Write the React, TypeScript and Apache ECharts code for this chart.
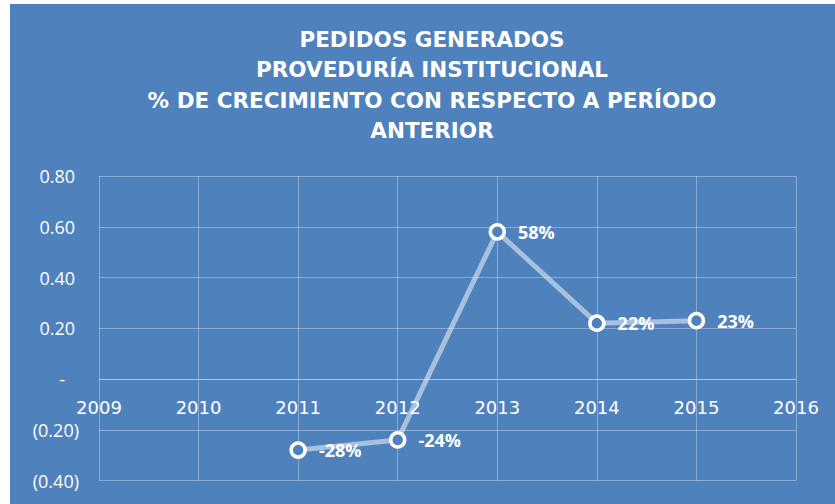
import React, { useEffect, useRef } from "react";
import * as echarts from "echarts";

const titleLines = [
  "PEDIDOS GENERADOS",
  "PROVEDURÍA INSTITUCIONAL",
  "% DE CRECIMIENTO CON RESPECTO A PERÍODO",
  "ANTERIOR",
];
const years = [2011, 2012, 2013, 2014, 2015];
const growth = [-0.28, -0.24, 0.58, 0.22, 0.23];
const xMin = 2009;
const xMax = 2016;
const yMin = -0.4;
const yMax = 0.8;
const yStep = 0.2;

const BG = "#4F81BD";
const GRID = "rgba(255,255,255,0.33)";

const GRID_TOP = 176;
const GRID_BOTTOM = 23.5;
const CH = 504;

export default function App() {
  const ref = useRef<HTMLDivElement>(null);
  useEffect(() => {
    if (!ref.current) return;
    const chart = echarts.init(ref.current, undefined, { renderer: "svg" });
    const gridH = CH - GRID_TOP - GRID_BOTTOM;
    const zeroFromBottom = (gridH * (0 - yMin)) / (yMax - yMin);
    chart.setOption({
      animation: false,
      backgroundColor: "#ffffff",
      graphic: [
        {
          type: "rect",
          z: -10,
          silent: true,
          shape: { x: 10, y: 4, width: 825, height: 500 },
          style: { fill: BG },
        },
      ],
      title: {
        text: titleLines.join("\n"),
        left: 427,
        top: 19,
        textAlign: "center",
        textStyle: {
          color: "#ffffff",
          fontFamily: "DejaVu Sans",
          fontWeight: "bold",
          fontSize: 21.5,
          lineHeight: 30.5,
        },
      },
      grid: {
        left: 99,
        right: 39,
        top: GRID_TOP,
        bottom: GRID_BOTTOM,
        containLabel: false,
        outerBoundsMode: "none",
      },
      xAxis: {
        type: "value",
        min: xMin,
        max: xMax,
        interval: 1,
        offset: -zeroFromBottom,
        axisLine: { show: true, onZero: false, lineStyle: { color: GRID, width: 1 } },
        axisTick: { show: false },
        splitLine: { show: true, lineStyle: { color: GRID, width: 1 } },
        axisLabel: {
          color: "#ffffff",
          fontFamily: "DejaVu Sans",
          fontSize: 18,
          margin: 19,
          formatter: (v: number) => String(v),
        },
      },
      yAxis: {
        type: "value",
        min: yMin,
        max: yMax,
        interval: yStep,
        axisLine: { show: false },
        axisTick: { show: false },
        splitLine: { show: true, lineStyle: { color: GRID, width: 1 } },
        axisLabel: {
          color: "#ffffff",
          fontFamily: "Open Sans",
          fontSize: 18,
          margin: 20,
          formatter: (v: number) => {
            if (Math.abs(v) < 1e-9) return "{z|-}";
            if (v < 0) return "{n|(" + Math.abs(v).toFixed(2) + ")}";
            return "{p|" + v.toFixed(2) + "}";
          },
          rich: {
            z: { color: "#ffffff", fontFamily: "Open Sans", fontSize: 18, padding: [0, 14, 0, 0] },
            n: { color: "#ffffff", fontFamily: "Open Sans", fontSize: 18 },
            p: { color: "#ffffff", fontFamily: "Open Sans", fontSize: 18, padding: [0, 4, 0, 0] },
          },
        },
      },
      series: [
        {
          type: "line",
          data: years.map((y, i) => [y, growth[i]]),
          symbol: "circle",
          symbolSize: 14,
          lineStyle: { color: "rgba(255,255,255,0.5)", width: 5 },
          itemStyle: { color: BG, borderColor: "#ffffff", borderWidth: 3.5 },
          label: {
            show: true,
            position: "right",
            distance: 12,
            color: "#ffffff",
            fontFamily: "Open Sans",
            fontWeight: "bold",
            fontSize: 18,
            formatter: (p: any) => Math.round(p.value[1] * 100) + "%",
          },
        },
      ],
    });
    return () => chart.dispose();
  }, []);
  return (
    <div
      ref={ref}
      style={{ position: "absolute", left: 0, top: 0, width: 835, height: 504 }}
    />
  );
}
